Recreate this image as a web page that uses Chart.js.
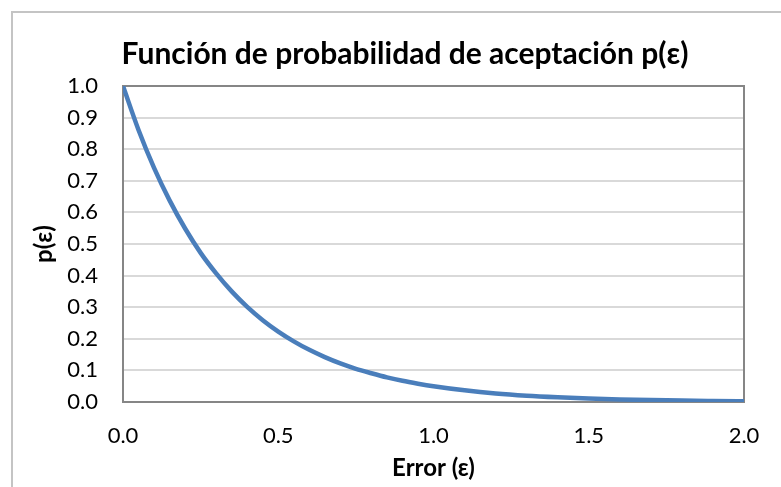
<!DOCTYPE html>
<html>
<head>
<meta charset="utf-8">
<script src="https://cdn.jsdelivr.net/npm/chart.js@4/dist/chart.umd.min.js"></script>
<style>
  html, body { margin: 0; padding: 0; background: #fff; overflow: hidden; }
  #frame { position: absolute; left: 11px; top: 11px; width: 820px; height: 520px; border: 2px solid #c4c4c4; }
  #wrap { position: absolute; left: 0; top: 0; width: 781px; height: 487px; }
</style>
</head>
<body>
<div id="frame"></div>
<div id="wrap"><canvas id="c" width="781" height="487"></canvas></div>
<script>
// Error values (ε) along the horizontal axis
const errors = [0, 0.05, 0.1, 0.15, 0.2, 0.25, 0.3, 0.35, 0.4, 0.45, 0.5, 0.55, 0.6, 0.65, 0.7, 0.75,
                0.8, 0.85, 0.9, 0.95, 1.0, 1.1, 1.2, 1.3, 1.4, 1.5, 1.6, 1.7, 1.8, 1.9, 2.0];
// Acceptance probability p(ε) at each error value
const pValues = [1.000, 0.861, 0.741, 0.638, 0.549, 0.472, 0.407, 0.350, 0.301, 0.259, 0.223, 0.192, 0.165, 0.142, 0.122, 0.105,
                 0.091, 0.078, 0.067, 0.058, 0.050, 0.037, 0.027, 0.020, 0.015, 0.011, 0.008, 0.006, 0.0045, 0.0034, 0.0025];
// Axis tick labels
const xTickLabels = ['0.0', '0.5', '1.0', '1.5', '2.0'];
const yTickLabels = ['0.0', '0.1', '0.2', '0.3', '0.4', '0.5', '0.6', '0.7', '0.8', '0.9', '1.0'];

const FONT = 'Lato, "Open Sans", sans-serif';
const AXIS_GREY = '#868686';

// Grey frame around the plotting area
const plotFrame = {
  id: 'plotFrame',
  beforeDatasetsDraw(chart) {
    const { ctx, chartArea: a } = chart;
    ctx.save();
    ctx.strokeStyle = AXIS_GREY;
    ctx.lineWidth = 2;
    ctx.strokeRect(a.left, a.top, a.right - a.left, a.bottom - a.top);
    ctx.restore();
  }
};

new Chart(document.getElementById('c'), {
  type: 'scatter',
  data: {
    datasets: [{
      label: 'p(ε)',
      data: errors.map((e, i) => ({ x: e, y: pValues[i] })),
      showLine: true,
      borderColor: '#4a7ebb',
      borderWidth: 4.5,
      pointRadius: 0,
      cubicInterpolationMode: 'monotone',
      fill: false
    }]
  },
  options: {
    responsive: false,
    devicePixelRatio: 1,
    animation: false,
    layout: { padding: { left: 30, right: 1, top: 36, bottom: 0 } },
    plugins: {
      legend: { display: false },
      tooltip: { enabled: false },
      title: {
        display: true,
        text: 'Función de probabilidad de aceptación p(ε)',
        color: '#000',
        font: { family: FONT, size: 30, weight: 'bold' },
        padding: { top: 0, bottom: 14 }
      }
    },
    scales: {
      x: {
        type: 'linear',
        min: 0, max: 2,
        afterBuildTicks(axis) { axis.ticks = xTickLabels.map(t => ({ value: parseFloat(t) })); },
        ticks: {
          callback: (v) => v.toFixed(1),
          color: '#000',
          font: { family: FONT, size: 22 },
          padding: 21,
          maxRotation: 0
        },
        grid: { display: false, drawTicks: false },
        border: { display: true, color: AXIS_GREY, width: 2 },
        title: {
          display: true,
          text: 'Error (ε)',
          color: '#000',
          font: { family: FONT, size: 24, weight: 'bold' },
          padding: { top: 0, bottom: 4 }
        },
        afterFit(axis) { axis.height = 85; }
      },
      y: {
        type: 'linear',
        min: 0, max: 1,
        afterBuildTicks(axis) { axis.ticks = yTickLabels.map(t => ({ value: parseFloat(t) })); },
        ticks: {
          callback: (v) => v.toFixed(1),
          color: '#000',
          font: { family: FONT, size: 22 },
          padding: 25
        },
        grid: { color: '#d9d9d9', lineWidth: 2, drawTicks: false },
        border: { display: true, color: AXIS_GREY, width: 2 },
        title: {
          display: true,
          text: 'p(ε)',
          color: '#000',
          font: { family: FONT, size: 24, weight: 'bold' },
          padding: { top: 0, bottom: 0 }
        },
        afterFit(axis) { axis.width = 93; }
      },
      yRight: {
        type: 'linear',
        position: 'right',
        display: true,
        min: 0, max: 1,
        ticks: { display: false },
        grid: { display: false, drawTicks: false },
        border: { display: false },
        afterFit(axis) { axis.width = 36; }
      }
    }
  },
  plugins: [plotFrame]
});
</script>
</body>
</html>
